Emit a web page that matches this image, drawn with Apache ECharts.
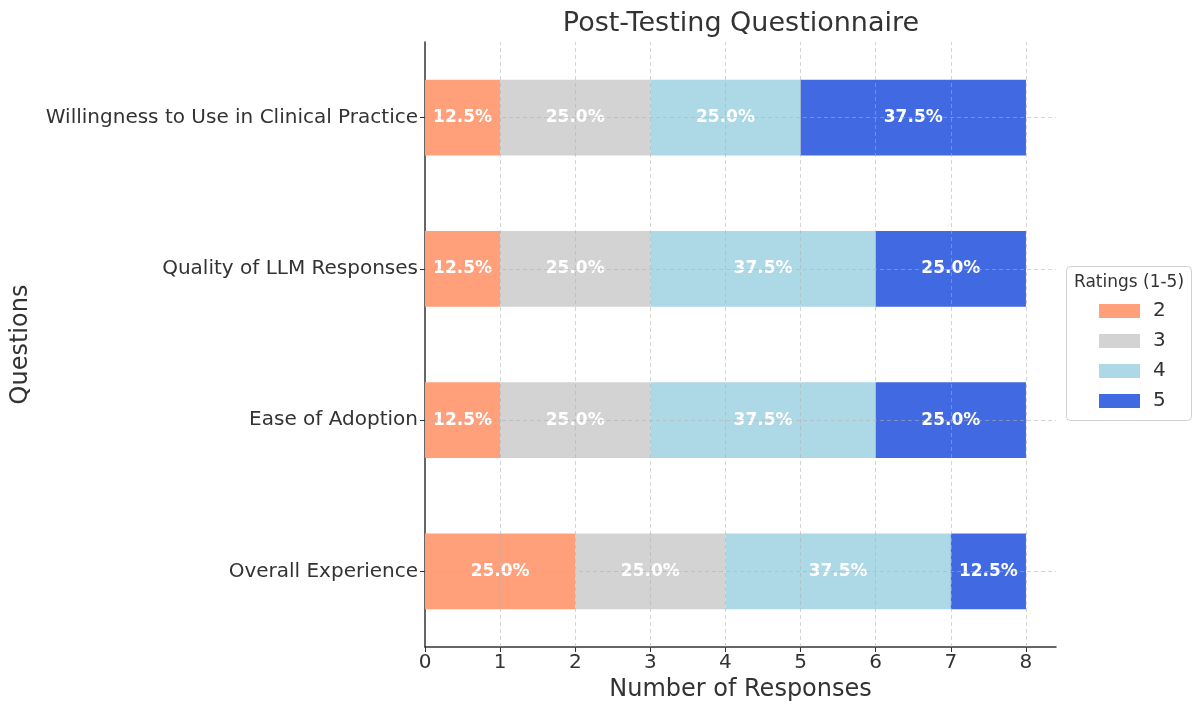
<!DOCTYPE html>
<html><head><meta charset="utf-8">
<script src="https://cdn.jsdelivr.net/npm/echarts@6/dist/echarts.min.js"></script>
<style>html,body{margin:0;padding:0;background:#fff}#c{width:1195px;height:707px}</style>
</head><body><div id="c"></div>
<script>
const categories = ['Overall Experience', 'Ease of Adoption', 'Quality of LLM Responses', 'Willingness to Use in Clinical Practice'];
const ratingNames = ['2', '3', '4', '5'];
const rating2 = [2, 1, 1, 1];
const rating3 = [2, 2, 2, 2];
const rating4 = [3, 3, 3, 2];
const rating5 = [1, 2, 2, 3];
const xTicks = [0, 1, 2, 3, 4, 5, 6, 7, 8];
const colors = ['#FFA07A', '#D3D3D3', '#ADD8E6', '#4169E1'];

const seriesValues = [rating2, rating3, rating4, rating5];
const totals = categories.map((_, i) => seriesValues.reduce((s, a) => s + a[i], 0));
const font = 'DejaVu Sans';
const gridColor = 'rgba(176,176,176,0.55)';

const chart = echarts.init(document.getElementById('c'), null, {renderer: 'canvas'});
const series = ratingNames.map((name, k) => ({
  name: name,
  type: 'bar',
  stack: 'total',
  barWidth: '50%',
  data: seriesValues[k],
  itemStyle: {color: colors[k]},
  label: {
    show: true,
    position: 'inside',
    color: '#fff',
    fontFamily: font,
    fontWeight: 'bold',
    fontSize: 17,
    formatter: p => p.value > 0 ? (p.value / totals[p.dataIndex] * 100).toFixed(1) + '%' : ''
  }
}));
series.push({
  type: 'line',
  data: [],
  z: 10,
  silent: true,
  markLine: {
    silent: true,
    symbol: 'none',
    z: 10,
    label: {show: false},
    lineStyle: {color: gridColor, type: [4, 3], width: 1},
    data: xTicks.filter(v => v > 0).map(v => ({xAxis: v})).concat(categories.map(c => ({yAxis: c})))
  }
});

chart.setOption({
  animation: false,
  textStyle: {fontFamily: font},
  title: {
    text: 'Post-Testing Questionnaire',
    left: 736, top: 5, textAlign: 'center',
    textStyle: {fontFamily: font, fontSize: 27, fontWeight: 'normal', color: '#333'}
  },
  grid: {left: 425, right: 139, top: 42, bottom: 60, containLabel: false},
  legend: {
    data: ratingNames,
    orient: 'vertical',
    left: 1094, top: 296,
    itemWidth: 41, itemHeight: 14, itemGap: 10,
    icon: 'rect',
    textStyle: {fontFamily: font, fontSize: 20, color: '#333', padding: [0, 0, 0, 8]},
    selectedMode: false
  },
  graphic: [
    {type: 'rect', shape: {x: 1066.5, y: 266.5, width: 125, height: 154, r: 4}, style: {fill: 'rgba(255,255,255,0.8)', stroke: '#d0d0d0', lineWidth: 1}, z: -1},
    {type: 'text', x: 1129, y: 283, style: {text: 'Ratings (1-5)', font: '17px "DejaVu Sans"', fill: '#333', textAlign: 'center', textVerticalAlign: 'middle'}}
  ],
  xAxis: {
    type: 'value', min: 0, max: 8.4, interval: 1,
    name: 'Number of Responses', nameLocation: 'middle', nameGap: 31,
    nameTextStyle: {fontFamily: font, fontSize: 24, color: '#333'},
    axisLine: {show: true, lineStyle: {color: '#333', width: 1.5}},
    axisTick: {show: true, length: 5, lineStyle: {color: '#333'}, customValues: xTicks},
    axisLabel: {fontFamily: font, fontSize: 20, color: '#333', margin: 6, customValues: xTicks},
    splitLine: {show: false}
  },
  yAxis: {
    type: 'category', data: categories,
    name: 'Questions', nameLocation: 'middle', nameGap: 392, nameRotate: 90,
    nameTextStyle: {fontFamily: font, fontSize: 24, color: '#333'},
    axisLine: {show: true, lineStyle: {color: '#333', width: 1.5}},
    axisTick: {show: true, alignWithLabel: true, length: 5, lineStyle: {color: '#333'}},
    axisLabel: {fontFamily: font, fontSize: 20, color: '#333', margin: 7},
    splitLine: {show: false}
  },
  series: series
});
</script></body></html>
